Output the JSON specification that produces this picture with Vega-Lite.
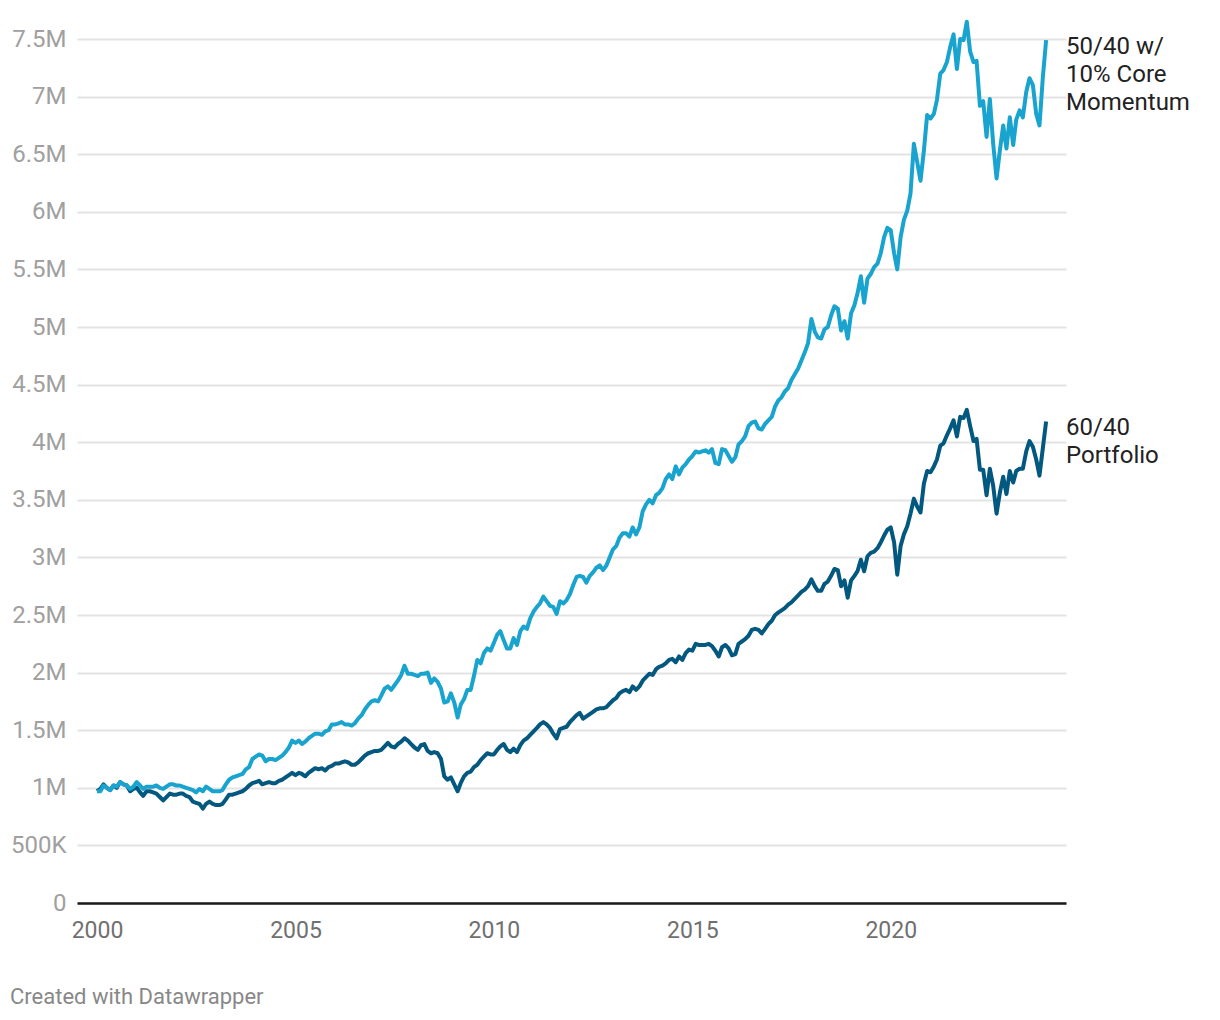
{
"$schema": "https://vega.github.io/schema/vega-lite/v6.json",
"width": 989, "height": 864,
"autosize": {"type": "none"},
"padding": {"left": 77, "top": 39, "right": 154, "bottom": 117},
"background": "white",
"config": {"view": {"stroke": null}, "font": "Roboto"},
"title": {"text": "Created with Datawrapper", "orient": "bottom", "anchor": "start", "frame": "group", "dx": -67, "offset": 45, "fontSize": 22, "fontWeight": "normal", "color": "#888888", "font": "Roboto", "baseline": "top"},
"data": {"format": {"parse": {"d": "utc:'%Y-%m'"}}, "values": [
{"d":"2000-01","p6040":970000,"mom":970000},
{"d":"2000-02","p6040":990000,"mom":970000},
{"d":"2000-03","p6040":1030000,"mom":1020000},
{"d":"2000-04","p6040":1000000,"mom":1000000},
{"d":"2000-05","p6040":980000,"mom":980000},
{"d":"2000-06","p6040":1020000,"mom":1020000},
{"d":"2000-07","p6040":1000000,"mom":1010000},
{"d":"2000-08","p6040":1050000,"mom":1050000},
{"d":"2000-09","p6040":1030000,"mom":1030000},
{"d":"2000-10","p6040":1020000,"mom":1020000},
{"d":"2000-11","p6040":970000,"mom":990000},
{"d":"2000-12","p6040":990000,"mom":1010000},
{"d":"2001-01","p6040":1000000,"mom":1050000},
{"d":"2001-02","p6040":960000,"mom":1020000},
{"d":"2001-03","p6040":930000,"mom":990000},
{"d":"2001-04","p6040":970000,"mom":1010000},
{"d":"2001-05","p6040":970000,"mom":1010000},
{"d":"2001-06","p6040":960000,"mom":1010000},
{"d":"2001-07","p6040":950000,"mom":1020000},
{"d":"2001-08","p6040":920000,"mom":1000000},
{"d":"2001-09","p6040":890000,"mom":990000},
{"d":"2001-10","p6040":920000,"mom":1010000},
{"d":"2001-11","p6040":950000,"mom":1030000},
{"d":"2001-12","p6040":940000,"mom":1030000},
{"d":"2002-01","p6040":940000,"mom":1020000},
{"d":"2002-02","p6040":950000,"mom":1020000},
{"d":"2002-03","p6040":950000,"mom":1010000},
{"d":"2002-04","p6040":930000,"mom":1000000},
{"d":"2002-05","p6040":920000,"mom":990000},
{"d":"2002-06","p6040":880000,"mom":980000},
{"d":"2002-07","p6040":870000,"mom":960000},
{"d":"2002-08","p6040":860000,"mom":990000},
{"d":"2002-09","p6040":820000,"mom":970000},
{"d":"2002-10","p6040":860000,"mom":1010000},
{"d":"2002-11","p6040":880000,"mom":990000},
{"d":"2002-12","p6040":860000,"mom":970000},
{"d":"2003-01","p6040":850000,"mom":970000},
{"d":"2003-02","p6040":850000,"mom":970000},
{"d":"2003-03","p6040":860000,"mom":980000},
{"d":"2003-04","p6040":900000,"mom":1030000},
{"d":"2003-05","p6040":940000,"mom":1070000},
{"d":"2003-06","p6040":940000,"mom":1090000},
{"d":"2003-07","p6040":950000,"mom":1100000},
{"d":"2003-08","p6040":960000,"mom":1110000},
{"d":"2003-09","p6040":970000,"mom":1120000},
{"d":"2003-10","p6040":990000,"mom":1160000},
{"d":"2003-11","p6040":1020000,"mom":1180000},
{"d":"2003-12","p6040":1040000,"mom":1250000},
{"d":"2004-01","p6040":1050000,"mom":1270000},
{"d":"2004-02","p6040":1060000,"mom":1290000},
{"d":"2004-03","p6040":1030000,"mom":1280000},
{"d":"2004-04","p6040":1040000,"mom":1230000},
{"d":"2004-05","p6040":1050000,"mom":1250000},
{"d":"2004-06","p6040":1040000,"mom":1250000},
{"d":"2004-07","p6040":1040000,"mom":1240000},
{"d":"2004-08","p6040":1060000,"mom":1260000},
{"d":"2004-09","p6040":1070000,"mom":1280000},
{"d":"2004-10","p6040":1090000,"mom":1310000},
{"d":"2004-11","p6040":1110000,"mom":1350000},
{"d":"2004-12","p6040":1130000,"mom":1410000},
{"d":"2005-01","p6040":1110000,"mom":1390000},
{"d":"2005-02","p6040":1130000,"mom":1410000},
{"d":"2005-03","p6040":1120000,"mom":1380000},
{"d":"2005-04","p6040":1100000,"mom":1400000},
{"d":"2005-05","p6040":1130000,"mom":1430000},
{"d":"2005-06","p6040":1150000,"mom":1450000},
{"d":"2005-07","p6040":1170000,"mom":1470000},
{"d":"2005-08","p6040":1160000,"mom":1470000},
{"d":"2005-09","p6040":1170000,"mom":1460000},
{"d":"2005-10","p6040":1150000,"mom":1490000},
{"d":"2005-11","p6040":1180000,"mom":1500000},
{"d":"2005-12","p6040":1190000,"mom":1550000},
{"d":"2006-01","p6040":1210000,"mom":1550000},
{"d":"2006-02","p6040":1210000,"mom":1560000},
{"d":"2006-03","p6040":1220000,"mom":1570000},
{"d":"2006-04","p6040":1230000,"mom":1550000},
{"d":"2006-05","p6040":1220000,"mom":1550000},
{"d":"2006-06","p6040":1200000,"mom":1540000},
{"d":"2006-07","p6040":1200000,"mom":1560000},
{"d":"2006-08","p6040":1220000,"mom":1600000},
{"d":"2006-09","p6040":1250000,"mom":1630000},
{"d":"2006-10","p6040":1280000,"mom":1680000},
{"d":"2006-11","p6040":1300000,"mom":1720000},
{"d":"2006-12","p6040":1310000,"mom":1750000},
{"d":"2007-01","p6040":1320000,"mom":1760000},
{"d":"2007-02","p6040":1320000,"mom":1750000},
{"d":"2007-03","p6040":1330000,"mom":1800000},
{"d":"2007-04","p6040":1360000,"mom":1860000},
{"d":"2007-05","p6040":1390000,"mom":1880000},
{"d":"2007-06","p6040":1360000,"mom":1850000},
{"d":"2007-07","p6040":1350000,"mom":1890000},
{"d":"2007-08","p6040":1380000,"mom":1930000},
{"d":"2007-09","p6040":1400000,"mom":1980000},
{"d":"2007-10","p6040":1430000,"mom":2060000},
{"d":"2007-11","p6040":1410000,"mom":1990000},
{"d":"2007-12","p6040":1380000,"mom":1990000},
{"d":"2008-01","p6040":1350000,"mom":1980000},
{"d":"2008-02","p6040":1330000,"mom":1970000},
{"d":"2008-03","p6040":1370000,"mom":1990000},
{"d":"2008-04","p6040":1380000,"mom":1990000},
{"d":"2008-05","p6040":1320000,"mom":2000000},
{"d":"2008-06","p6040":1300000,"mom":1910000},
{"d":"2008-07","p6040":1310000,"mom":1950000},
{"d":"2008-08","p6040":1300000,"mom":1920000},
{"d":"2008-09","p6040":1250000,"mom":1860000},
{"d":"2008-10","p6040":1100000,"mom":1740000},
{"d":"2008-11","p6040":1070000,"mom":1750000},
{"d":"2008-12","p6040":1090000,"mom":1820000},
{"d":"2009-01","p6040":1030000,"mom":1740000},
{"d":"2009-02","p6040":970000,"mom":1610000},
{"d":"2009-03","p6040":1040000,"mom":1720000},
{"d":"2009-04","p6040":1100000,"mom":1770000},
{"d":"2009-05","p6040":1130000,"mom":1850000},
{"d":"2009-06","p6040":1140000,"mom":1850000},
{"d":"2009-07","p6040":1180000,"mom":1970000},
{"d":"2009-08","p6040":1200000,"mom":2110000},
{"d":"2009-09","p6040":1240000,"mom":2080000},
{"d":"2009-10","p6040":1270000,"mom":2170000},
{"d":"2009-11","p6040":1300000,"mom":2210000},
{"d":"2009-12","p6040":1290000,"mom":2190000},
{"d":"2010-01","p6040":1290000,"mom":2260000},
{"d":"2010-02","p6040":1330000,"mom":2330000},
{"d":"2010-03","p6040":1360000,"mom":2360000},
{"d":"2010-04","p6040":1380000,"mom":2280000},
{"d":"2010-05","p6040":1330000,"mom":2210000},
{"d":"2010-06","p6040":1310000,"mom":2210000},
{"d":"2010-07","p6040":1340000,"mom":2300000},
{"d":"2010-08","p6040":1310000,"mom":2240000},
{"d":"2010-09","p6040":1370000,"mom":2360000},
{"d":"2010-10","p6040":1410000,"mom":2400000},
{"d":"2010-11","p6040":1430000,"mom":2380000},
{"d":"2010-12","p6040":1460000,"mom":2470000},
{"d":"2011-01","p6040":1490000,"mom":2530000},
{"d":"2011-02","p6040":1520000,"mom":2570000},
{"d":"2011-03","p6040":1550000,"mom":2600000},
{"d":"2011-04","p6040":1570000,"mom":2660000},
{"d":"2011-05","p6040":1550000,"mom":2620000},
{"d":"2011-06","p6040":1520000,"mom":2580000},
{"d":"2011-07","p6040":1470000,"mom":2570000},
{"d":"2011-08","p6040":1430000,"mom":2510000},
{"d":"2011-09","p6040":1510000,"mom":2620000},
{"d":"2011-10","p6040":1520000,"mom":2600000},
{"d":"2011-11","p6040":1530000,"mom":2630000},
{"d":"2011-12","p6040":1570000,"mom":2680000},
{"d":"2012-01","p6040":1600000,"mom":2760000},
{"d":"2012-02","p6040":1630000,"mom":2830000},
{"d":"2012-03","p6040":1650000,"mom":2840000},
{"d":"2012-04","p6040":1600000,"mom":2830000},
{"d":"2012-05","p6040":1620000,"mom":2780000},
{"d":"2012-06","p6040":1640000,"mom":2840000},
{"d":"2012-07","p6040":1660000,"mom":2870000},
{"d":"2012-08","p6040":1680000,"mom":2910000},
{"d":"2012-09","p6040":1690000,"mom":2930000},
{"d":"2012-10","p6040":1690000,"mom":2890000},
{"d":"2012-11","p6040":1700000,"mom":2930000},
{"d":"2012-12","p6040":1730000,"mom":3000000},
{"d":"2013-01","p6040":1760000,"mom":3070000},
{"d":"2013-02","p6040":1780000,"mom":3100000},
{"d":"2013-03","p6040":1820000,"mom":3170000},
{"d":"2013-04","p6040":1840000,"mom":3210000},
{"d":"2013-05","p6040":1850000,"mom":3210000},
{"d":"2013-06","p6040":1830000,"mom":3180000},
{"d":"2013-07","p6040":1880000,"mom":3260000},
{"d":"2013-08","p6040":1850000,"mom":3200000},
{"d":"2013-09","p6040":1880000,"mom":3260000},
{"d":"2013-10","p6040":1930000,"mom":3400000},
{"d":"2013-11","p6040":1960000,"mom":3460000},
{"d":"2013-12","p6040":1990000,"mom":3500000},
{"d":"2014-01","p6040":1980000,"mom":3470000},
{"d":"2014-02","p6040":2030000,"mom":3540000},
{"d":"2014-03","p6040":2050000,"mom":3560000},
{"d":"2014-04","p6040":2060000,"mom":3600000},
{"d":"2014-05","p6040":2080000,"mom":3680000},
{"d":"2014-06","p6040":2110000,"mom":3720000},
{"d":"2014-07","p6040":2120000,"mom":3680000},
{"d":"2014-08","p6040":2090000,"mom":3790000},
{"d":"2014-09","p6040":2140000,"mom":3720000},
{"d":"2014-10","p6040":2110000,"mom":3780000},
{"d":"2014-11","p6040":2170000,"mom":3810000},
{"d":"2014-12","p6040":2200000,"mom":3850000},
{"d":"2015-01","p6040":2190000,"mom":3880000},
{"d":"2015-02","p6040":2250000,"mom":3920000},
{"d":"2015-03","p6040":2240000,"mom":3910000},
{"d":"2015-04","p6040":2240000,"mom":3920000},
{"d":"2015-05","p6040":2240000,"mom":3930000},
{"d":"2015-06","p6040":2250000,"mom":3910000},
{"d":"2015-07","p6040":2230000,"mom":3940000},
{"d":"2015-08","p6040":2190000,"mom":3820000},
{"d":"2015-09","p6040":2140000,"mom":3810000},
{"d":"2015-10","p6040":2220000,"mom":3940000},
{"d":"2015-11","p6040":2240000,"mom":3930000},
{"d":"2015-12","p6040":2210000,"mom":3880000},
{"d":"2016-01","p6040":2150000,"mom":3830000},
{"d":"2016-02","p6040":2160000,"mom":3870000},
{"d":"2016-03","p6040":2250000,"mom":3980000},
{"d":"2016-04","p6040":2270000,"mom":4010000},
{"d":"2016-05","p6040":2290000,"mom":4050000},
{"d":"2016-06","p6040":2320000,"mom":4140000},
{"d":"2016-07","p6040":2370000,"mom":4170000},
{"d":"2016-08","p6040":2380000,"mom":4180000},
{"d":"2016-09","p6040":2370000,"mom":4120000},
{"d":"2016-10","p6040":2340000,"mom":4110000},
{"d":"2016-11","p6040":2380000,"mom":4160000},
{"d":"2016-12","p6040":2420000,"mom":4190000},
{"d":"2017-01","p6040":2450000,"mom":4220000},
{"d":"2017-02","p6040":2500000,"mom":4310000},
{"d":"2017-03","p6040":2520000,"mom":4360000},
{"d":"2017-04","p6040":2540000,"mom":4390000},
{"d":"2017-05","p6040":2560000,"mom":4440000},
{"d":"2017-06","p6040":2590000,"mom":4470000},
{"d":"2017-07","p6040":2610000,"mom":4540000},
{"d":"2017-08","p6040":2640000,"mom":4590000},
{"d":"2017-09","p6040":2670000,"mom":4640000},
{"d":"2017-10","p6040":2700000,"mom":4710000},
{"d":"2017-11","p6040":2720000,"mom":4780000},
{"d":"2017-12","p6040":2750000,"mom":4860000},
{"d":"2018-01","p6040":2810000,"mom":5070000},
{"d":"2018-02","p6040":2750000,"mom":4960000},
{"d":"2018-03","p6040":2710000,"mom":4910000},
{"d":"2018-04","p6040":2710000,"mom":4900000},
{"d":"2018-05","p6040":2770000,"mom":4980000},
{"d":"2018-06","p6040":2790000,"mom":5000000},
{"d":"2018-07","p6040":2840000,"mom":5100000},
{"d":"2018-08","p6040":2900000,"mom":5180000},
{"d":"2018-09","p6040":2890000,"mom":5160000},
{"d":"2018-10","p6040":2750000,"mom":4970000},
{"d":"2018-11","p6040":2800000,"mom":5050000},
{"d":"2018-12","p6040":2650000,"mom":4900000},
{"d":"2019-01","p6040":2800000,"mom":5120000},
{"d":"2019-02","p6040":2840000,"mom":5190000},
{"d":"2019-03","p6040":2880000,"mom":5290000},
{"d":"2019-04","p6040":2980000,"mom":5440000},
{"d":"2019-05","p6040":2880000,"mom":5210000},
{"d":"2019-06","p6040":3010000,"mom":5420000},
{"d":"2019-07","p6040":3040000,"mom":5460000},
{"d":"2019-08","p6040":3050000,"mom":5520000},
{"d":"2019-09","p6040":3080000,"mom":5550000},
{"d":"2019-10","p6040":3130000,"mom":5640000},
{"d":"2019-11","p6040":3190000,"mom":5780000},
{"d":"2019-12","p6040":3240000,"mom":5860000},
{"d":"2020-01","p6040":3260000,"mom":5840000},
{"d":"2020-02","p6040":3130000,"mom":5640000},
{"d":"2020-03","p6040":2850000,"mom":5500000},
{"d":"2020-04","p6040":3100000,"mom":5780000},
{"d":"2020-05","p6040":3200000,"mom":5930000},
{"d":"2020-06","p6040":3270000,"mom":6010000},
{"d":"2020-07","p6040":3380000,"mom":6160000},
{"d":"2020-08","p6040":3510000,"mom":6590000},
{"d":"2020-09","p6040":3440000,"mom":6430000},
{"d":"2020-10","p6040":3390000,"mom":6270000},
{"d":"2020-11","p6040":3640000,"mom":6530000},
{"d":"2020-12","p6040":3750000,"mom":6840000},
{"d":"2021-01","p6040":3740000,"mom":6810000},
{"d":"2021-02","p6040":3790000,"mom":6850000},
{"d":"2021-03","p6040":3850000,"mom":6970000},
{"d":"2021-04","p6040":3970000,"mom":7200000},
{"d":"2021-05","p6040":3990000,"mom":7230000},
{"d":"2021-06","p6040":4060000,"mom":7300000},
{"d":"2021-07","p6040":4120000,"mom":7430000},
{"d":"2021-08","p6040":4190000,"mom":7540000},
{"d":"2021-09","p6040":4050000,"mom":7240000},
{"d":"2021-10","p6040":4220000,"mom":7500000},
{"d":"2021-11","p6040":4210000,"mom":7490000},
{"d":"2021-12","p6040":4280000,"mom":7650000},
{"d":"2022-01","p6040":4140000,"mom":7390000},
{"d":"2022-02","p6040":4010000,"mom":7300000},
{"d":"2022-03","p6040":4030000,"mom":7310000},
{"d":"2022-04","p6040":3760000,"mom":6920000},
{"d":"2022-05","p6040":3760000,"mom":6960000},
{"d":"2022-06","p6040":3540000,"mom":6650000},
{"d":"2022-07","p6040":3770000,"mom":6980000},
{"d":"2022-08","p6040":3620000,"mom":6590000},
{"d":"2022-09","p6040":3380000,"mom":6290000},
{"d":"2022-10","p6040":3560000,"mom":6530000},
{"d":"2022-11","p6040":3700000,"mom":6750000},
{"d":"2022-12","p6040":3550000,"mom":6550000},
{"d":"2023-01","p6040":3750000,"mom":6820000},
{"d":"2023-02","p6040":3650000,"mom":6580000},
{"d":"2023-03","p6040":3750000,"mom":6800000},
{"d":"2023-04","p6040":3770000,"mom":6880000},
{"d":"2023-05","p6040":3770000,"mom":6820000},
{"d":"2023-06","p6040":3920000,"mom":7040000},
{"d":"2023-07","p6040":4010000,"mom":7160000},
{"d":"2023-08","p6040":3960000,"mom":7100000},
{"d":"2023-09","p6040":3850000,"mom":6850000},
{"d":"2023-10","p6040":3710000,"mom":6750000},
{"d":"2023-11","p6040":3950000,"mom":7170000},
{"d":"2023-12","p6040":4180000,"mom":7490000}
]},
"transform": [{"fold": ["p6040", "mom"], "as": ["series", "value"]}],
"encoding": {
  "x": {"field": "d", "type": "temporal",
    "scale": {"type": "utc", "domain": [{"year": 1999, "month": 7, "date": 1, "utc": true}, {"year": 2024, "month": 6, "date": 1, "utc": true}]},
    "axis": {"values": [{"year": 2000, "utc": true}, {"year": 2005, "utc": true}, {"year": 2010, "utc": true}, {"year": 2015, "utc": true}, {"year": 2020, "utc": true}],
      "format": "%Y", "grid": false, "ticks": false, "domainColor": "#1a1a1a", "domainWidth": 2.5,
      "labelPadding": 16, "labelFontSize": 23, "labelColor": "#707070", "labelFont": "Roboto", "title": null}},
  "y": {"field": "value", "type": "quantitative",
    "scale": {"domain": [0, 7500000], "nice": false, "zero": true},
    "axis": {"values": [0, 500000, 1000000, 1500000, 2000000, 2500000, 3000000, 3500000, 4000000, 4500000, 5000000, 5500000, 6000000, 6500000, 7000000, 7500000],
      "labelExpr": "datum.value == 0 ? '0' : replace(format(datum.value, '~s'), 'k', 'K')",
      "domain": false, "ticks": false, "labelPadding": 11, "labelFontSize": 24, "labelColor": "#a0a0a0", "labelFont": "Roboto",
      "gridColor": "#e3e3e3", "gridWidth": 2, "title": null}},
  "color": {"field": "series", "type": "nominal", "scale": {"domain": ["p6040", "mom"], "range": ["#03587f", "#19a3cf"]}, "legend": null}
},
"layer": [
  {"mark": {"type": "line", "strokeWidth": 4, "strokeJoin": "round"}},
  {"transform": [
     {"joinaggregate": [{"op": "max", "field": "d", "as": "maxd"}]},
     {"filter": "time(datum.d) == time(datum.maxd)"},
     {"lookup": "series", "from": {"data": {"values": [{"series": "mom", "label": "50/40 w/\n10% Core\nMomentum"}, {"series": "p6040", "label": "60/40\nPortfolio"}]}, "key": "series", "fields": ["label"]}}
   ],
   "mark": {"type": "text", "align": "left", "baseline": "top", "dx": 20, "dy": -5, "fontSize": 24, "lineHeight": 28, "lineBreak": "\n", "font": "Roboto"},
   "encoding": {"text": {"field": "label"}, "color": {"value": "#222222"}}}
]
}
